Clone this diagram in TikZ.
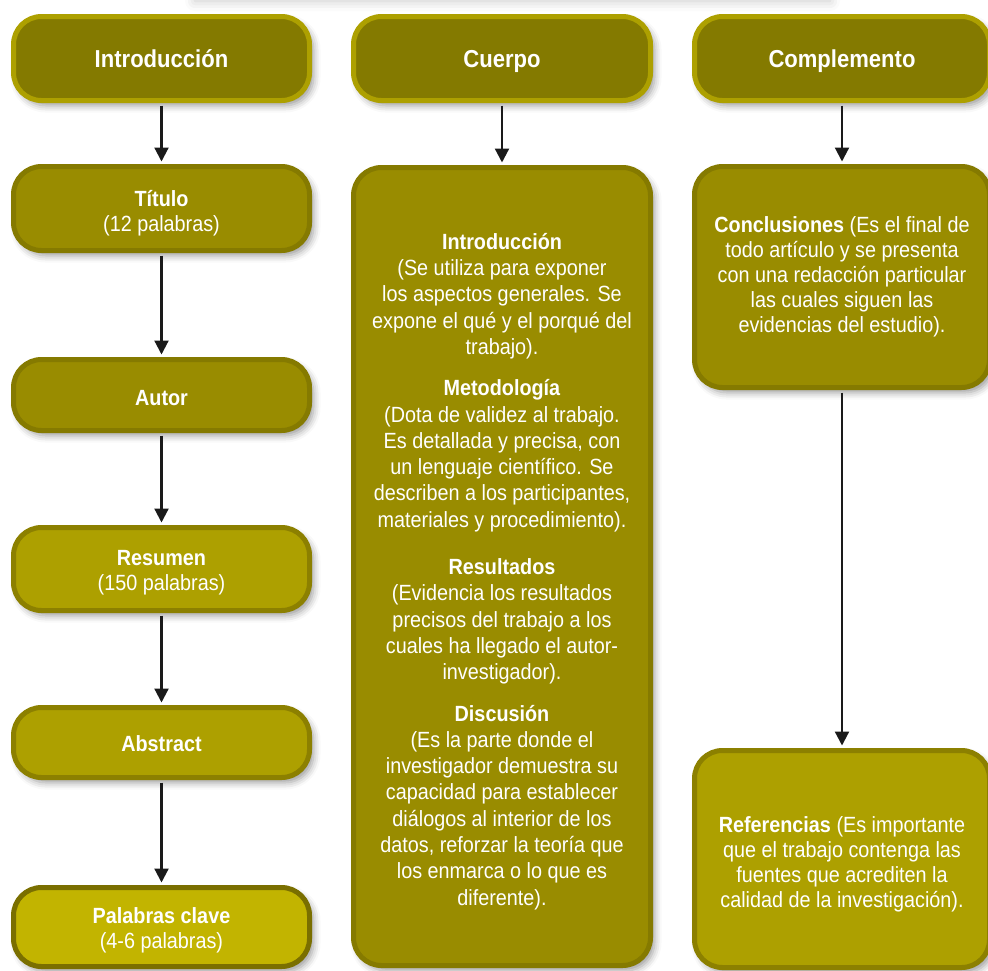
\documentclass[tikz,border=0pt]{standalone}
\usepackage{fontspec}
\setmainfont[FakeStretch=0.9]{Liberation Sans}
\usetikzlibrary{shadows.blur,arrows.meta}
\definecolor{hdrfill}{HTML}{847A00}
\definecolor{hdrline}{HTML}{ADA000}
\definecolor{midfill}{HTML}{998C00}
\definecolor{midline}{HTML}{857A00}
\definecolor{ltfill}{HTML}{ADA000}
\definecolor{ltline}{HTML}{8C8000}
\definecolor{pkfill}{HTML}{C2B400}
\definecolor{pkline}{HTML}{7A6F00}
\definecolor{arrcol}{HTML}{1A1A1A}
\begin{document}
\begin{tikzpicture}[x=1pt,y=-1pt,
  box/.style={rectangle, rounded corners=28pt, line width=5pt, text=white, align=center, inner sep=0pt,
    font=\fontsize{22}{25}\selectfont,
    blur shadow={shadow xshift=4pt, shadow yshift=-5pt, shadow blur radius=7pt, shadow opacity=40}},
  hdr/.style={box, fill=hdrfill, draw=hdrline, minimum height=84pt, text height=20pt, text depth=2pt,
    font=\bfseries\fontsize{24.5}{28}\selectfont},
  midbox/.style={box, fill=midfill, draw=midline},
  ltbox/.style={box, fill=ltfill, draw=ltline},
  pkbox/.style={box, fill=pkfill, draw=pkline},
  lcol/.style={minimum width=296pt},
  ccol/.style={minimum width=297pt},
  rcol/.style={minimum width=295pt},
  arr/.style={draw=arrcol, line width=2.2pt, -{Triangle[width=14pt,length=14pt]}, shorten <=2.5pt, shorten >=2.5pt}
]
\useasboundingbox (0,0) rectangle (988,970);
\fill[white, blur shadow={shadow xshift=0pt, shadow yshift=-3pt, shadow blur radius=10pt, shadow opacity=22}] (195,-60) rectangle (830,-2);

% headers
\node[hdr, lcol] (h1) at (161.5,58.5) {Introducción};
\node[hdr, ccol] (h2) at (502,58.5) {Cuerpo};
\node[hdr, rcol] (h3) at (842,58.5) {Complemento};

% left column
\node[midbox, lcol, minimum height=84pt] (tit) at (161.5,208.5) {\rule{0pt}{26pt}\textbf{Título}\\(12 palabras)};
\node[midbox, lcol, minimum height=71pt] (aut) at (161.5,395) {\rule{0pt}{22pt}\textbf{Autor}};
\node[ltbox, lcol, minimum height=83pt] (res) at (161.5,569) {\rule{0pt}{22pt}\textbf{Resumen}\\(150 palabras)};
\node[ltbox, lcol, minimum height=70pt] (abs) at (161.5,742.5) {\rule{0pt}{18pt}\textbf{Abstract}};
\node[pkbox, lcol, minimum height=79pt] (pal) at (161.5,927) {\rule{0pt}{22pt}\textbf{Palabras clave}\\(4-6 palabras)};

% center column
\node[midbox, ccol, minimum height=798pt, font=\fontsize{22}{26.3}\selectfont] (cue) at (502,566.5) {%
\rule{0pt}{26pt}\textbf{Introducción}\\(Se utiliza para exponer\\los aspectos generales. Se\\expone el qué y el porqué del\\trabajo).\\[15pt]
\textbf{Metodología}\\(Dota de validez al trabajo.\\Es detallada y precisa, con\\un lenguaje científico. Se\\describen a los participantes,\\materiales y procedimiento).\\[21pt]
\textbf{Resultados}\\(Evidencia los resultados\\precisos del trabajo a los\\cuales ha llegado el autor-\\investigador).\\[15pt]
\textbf{Discusión}\\(Es la parte donde el\\investigador demuestra su\\capacidad para establecer\\diálogos al interior de los\\datos, reforzar la teoría que\\los enmarca o lo que es\\diferente).};

% right column
\node[midbox, rcol, minimum height=221pt] (con) at (842,277) {\textbf{Conclusiones} (Es el final de\\todo artículo y se presenta\\con una redacción particular\\las cuales siguen las\\evidencias del estudio).};
\node[ltbox, rcol, minimum height=217pt] (ref) at (842,859) {\rule{0pt}{26pt}\textbf{Referencias} (Es importante\\que el trabajo contenga las\\fuentes que acrediten la\\calidad de la investigación).};

% arrows
\draw[arr] (h1.south) -- (tit.north);
\draw[arr] (tit.south) -- (aut.north);
\draw[arr] (aut.south) -- (res.north);
\draw[arr] (res.south) -- (abs.north);
\draw[arr] (abs.south) -- (pal.north);
\draw[arr] (h2.south) -- (cue.north);
\draw[arr] (h3.south) -- (con.north);
\draw[arr] (con.south) -- (ref.north);
\end{tikzpicture}
\end{document}
